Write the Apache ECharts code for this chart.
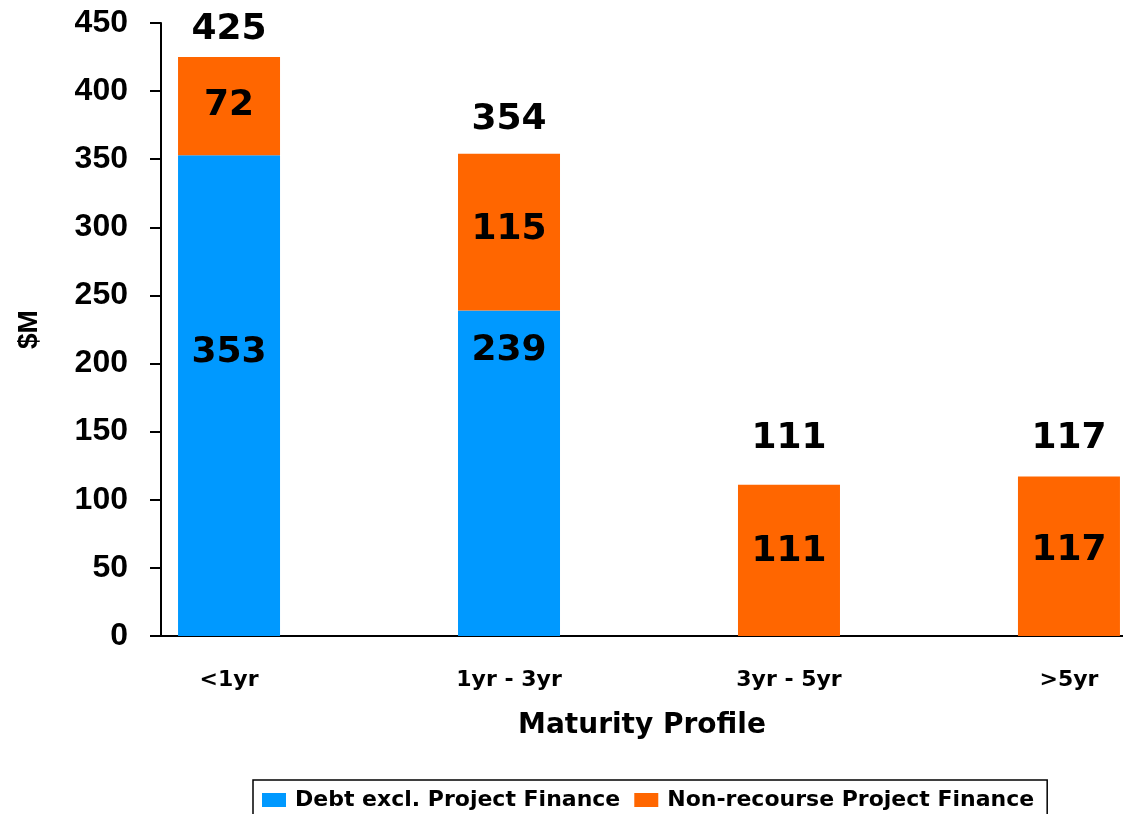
<!DOCTYPE html>
<html>
<head>
<meta charset="utf-8">
<script src="https://cdn.jsdelivr.net/npm/echarts@6/dist/echarts.min.js"></script>
<style>
html, body { margin: 0; padding: 0; background: #fff; }
#main { width: 1123px; height: 814px; }
</style>
</head>
<body>
<div id="main"></div>
<script>
var categories = ['<1yr', '1yr - 3yr', '3yr - 5yr', '>5yr'];
var debtValues = [353, 239, 0, 0];
var projectValues = [72, 115, 111, 117];
var totalValues = [425, 354, 111, 117];
var yTicks = [0, 50, 100, 150, 200, 250, 300, 350, 400, 450];

// label nudges (pixels), to sit where the original had them
var debtLabelShift = [-43, -123, 0, 0];
var projectLabelShift = [0, -2, -9, -6];
var totalLabelGap = [9, 16, 28, 20];

var arial = '"Liberation Sans", Arial, sans-serif';
var wide = '"DejaVu Sans", Verdana, sans-serif';

// value first, category index second: stacking runs on the first number
function pairs(values, shift) {
	var out = [];
	for (var i = 0; i < values.length; i++) {
		out.push({
			value: [values[i], i],
			label: { offset: [0, shift ? shift[i] : 0] }
		});
	}
	return out;
}

var totalData = [];
for (var i = 0; i < totalValues.length; i++) {
	totalData.push({
		value: [0, i],
		label: { distance: totalLabelGap[i] }
	});
}

var chart = echarts.init(document.getElementById('main'));

var barLabel = {
	show: true,
	position: 'inside',
	fontFamily: wide,
	fontWeight: 'bold',
	fontSize: 36,
	color: '#000'
};

var option = {
	backgroundColor: '#fff',
	animation: false,
	textStyle: { fontFamily: arial },
	grid: { left: 161, right: 0, top: 23, bottom: 178 },
	legend: {
		data: ['Debt excl. Project Finance', 'Non-recourse Project Finance'],
		left: 253,
		top: 780,
		borderColor: '#000',
		borderWidth: 1.5,
		padding: [9, 13, 9, 9],
		itemWidth: 24,
		itemHeight: 14,
		itemGap: 14,
		icon: 'rect',
		textStyle: {
			fontFamily: wide,
			fontWeight: 'bold',
			fontSize: 22,
			color: '#000',
			padding: [0, 0, 0, 4]
		}
	},
	xAxis: {
		type: 'value',
		min: -0.243,
		max: 3.193,
		name: 'Maturity Profile',
		nameLocation: 'middle',
		nameGap: 76,
		nameTextStyle: { fontFamily: wide, fontWeight: 'bold', fontSize: 28, color: '#000' },
		axisLine: { show: true, lineStyle: { color: '#000', width: 2 } },
		axisTick: { show: false },
		splitLine: { show: false },
		axisLabel: {
			customValues: [0, 1, 2, 3],
			formatter: function (v) { return categories[Math.round(v)]; },
			margin: 33,
			fontFamily: wide,
			fontWeight: 'bold',
			fontSize: 22,
			color: '#000'
		}
	},
	yAxis: {
		type: 'value',
		min: 0,
		max: 450,
		interval: 50,
		name: '$M',
		nameLocation: 'middle',
		nameRotate: 90,
		nameGap: 118,
		nameTextStyle: { fontFamily: arial, fontWeight: 'bold', fontSize: 28, color: '#000' },
		axisLine: { show: true, onZero: false, lineStyle: { color: '#000', width: 2 } },
		axisTick: { show: true, inside: false, length: 11, lineStyle: { color: '#000', width: 2 } },
		splitLine: { show: false },
		axisLabel: {
			formatter: function (v) { return yTicks.indexOf(v) > -1 ? String(v) : ''; },
			margin: 33,
			fontFamily: arial,
			fontWeight: 'bold',
			fontSize: 32,
			color: '#000'
		}
	},
	series: [
		{
			name: 'Debt excl. Project Finance',
			type: 'bar',
			stack: 'debt',
			barWidth: 102,
			encode: { x: 1, y: 0 },
			itemStyle: { color: '#0099FF' },
			label: Object.assign({}, barLabel, {
				formatter: function (p) { return p.value[0] ? String(p.value[0]) : ''; }
			}),
			data: pairs(debtValues, debtLabelShift)
		},
		{
			name: 'Non-recourse Project Finance',
			type: 'bar',
			stack: 'debt',
			barWidth: 102,
			encode: { x: 1, y: 0 },
			itemStyle: { color: '#FF6600' },
			label: Object.assign({}, barLabel, {
				formatter: function (p) { return String(p.value[0]); }
			}),
			data: pairs(projectValues, projectLabelShift)
		},
		{
			name: 'Total',
			type: 'bar',
			stack: 'debt',
			barWidth: 102,
			encode: { x: 1, y: 0 },
			silent: true,
			itemStyle: { color: 'rgba(0,0,0,0)' },
			label: Object.assign({}, barLabel, {
				position: 'top',
				fontSize: 36,
				formatter: function (p) { return String(totalValues[p.dataIndex]); }
			}),
			data: totalData
		}
	]
};

chart.setOption(option);
</script>
</body>
</html>
